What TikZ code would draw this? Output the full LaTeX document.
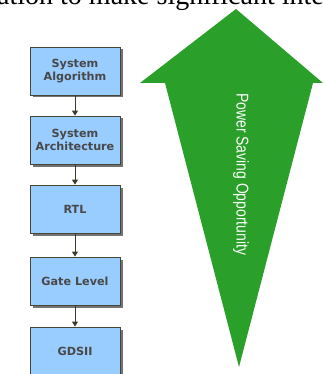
\documentclass[tikz,border=0pt]{standalone}
\usepackage{fontspec}
\usetikzlibrary{arrows.meta,shadows}
\newfontfamily\boxfont[Scale=1]{DejaVu Sans}
\newfontfamily\narrowfont[FakeStretch=0.82]{Liberation Sans}
\newfontfamily\serfont{Liberation Serif}
\definecolor{boxblue}{RGB}{153,204,255}
\definecolor{boxline}{RGB}{70,70,55}
\definecolor{boxtext}{RGB}{72,72,72}
\definecolor{arrgreen}{RGB}{42,160,42}
\definecolor{conn}{RGB}{60,60,45}
\tikzset{
  stage/.style={draw=boxline, line width=0.8pt, fill=boxblue,
    minimum width=90pt, minimum height=48pt, inner sep=0pt,
    align=center, text=boxtext,
    font=\boxfont\bfseries\fontsize{11.2}{12.5}\selectfont,
    drop shadow={shadow xshift=2.5pt, shadow yshift=-2.5pt, fill=black!55, opacity=1}},
  flow/.style={draw=conn, line width=1pt, -{Triangle[width=6pt,length=5pt]}}
}
\begin{document}
\begin{tikzpicture}[x=1pt,y=-1pt]
\useasboundingbox (0,0) rectangle (323,374);
\begin{scope}
\clip (0,0) rectangle (323,374);
\node[anchor=base west, inner sep=0pt, font=\serfont\fontsize{28}{31}\selectfont] (top) at (-3,4.5) {ation to make significant inter};
\fill[arrgreen] (236,9) -- (323,83) -- (313,83) -- (239,367) -- (165,83) -- (140,83) -- cycle;
\node[anchor=base west, rotate=-90, inner sep=0pt, text=white, font=\narrowfont\fontsize{17}{20}\selectfont] (pso) at (236.5,93) {Power Saving Opportunity};
\node[stage] (b1) at (75,71) {System\\Algorithm};
\node[stage] (b2) at (75,140) {System\\Architecture};
\node[stage] (b3) at (75,209) {RTL};
\node[stage] (b4) at (75,281) {Gate Level};
\node[stage] (b5) at (75,351) {GDSII};
\draw[flow] (b1.south) -- (b2.north);
\draw[flow] (b2.south) -- (b3.north);
\draw[flow] (b3.south) -- (b4.north);
\draw[flow] (b4.south) -- (b5.north);
\end{scope}
\end{tikzpicture}
\end{document}
